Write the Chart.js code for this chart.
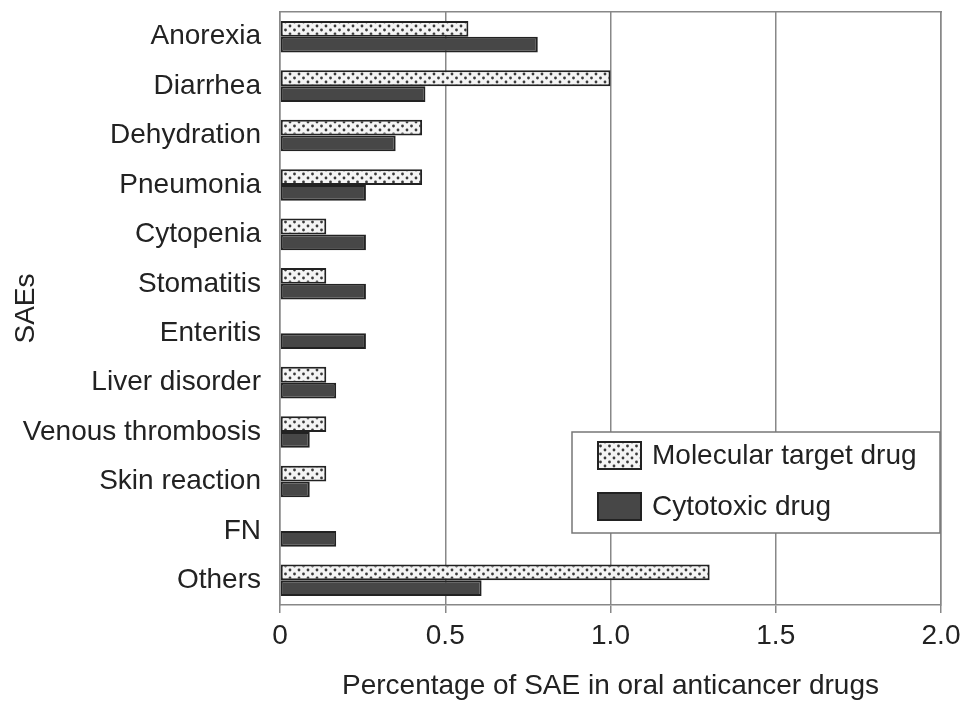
<!DOCTYPE html>
<html>
<head>
<meta charset="utf-8">
<script src="https://cdn.jsdelivr.net/npm/chart.js@4"></script>
<style>
  html, body { margin: 0; padding: 0; background: #fff; }
  #wrap { width: 969px; height: 711px; }
</style>
</head>
<body>
<div id="wrap"><canvas id="chart" width="969" height="711"></canvas></div>
<script>
const categories = ['Anorexia', 'Diarrhea', 'Dehydration', 'Pneumonia', 'Cytopenia', 'Stomatitis',
  'Enteritis', 'Liver disorder', 'Venous thrombosis', 'Skin reaction', 'FN', 'Others'];
const molecularTarget = [0.57, 1.00, 0.43, 0.43, 0.14, 0.14, 0, 0.14, 0.14, 0.14, 0, 1.30];
const cytotoxic = [0.78, 0.44, 0.35, 0.26, 0.26, 0.26, 0.26, 0.17, 0.09, 0.09, 0.17, 0.61];
const xTicks = [0, 0.5, 1.0, 1.5, 2.0];

const FONT = '"Liberation Sans", Arial, sans-serif';

// stipple fill for the molecular target bars
const makeDots = () => {
  const c = document.createElement('canvas');
  c.width = 9; c.height = 8;
  const g = c.getContext('2d');
  g.fillStyle = '#f4f4f4';
  g.fillRect(0, 0, 9, 8);
  g.fillStyle = '#3a3a3a';
  g.beginPath(); g.arc(2, 2, 1.4, 0, Math.PI * 2); g.fill();
  g.beginPath(); g.arc(6.5, 6, 1.4, 0, Math.PI * 2); g.fill();
  return g.createPattern(c, 'repeat');
};
const dots = makeDots();

// legend drawn inside the plot area, bottom right
const boxLegend = {
  id: 'boxLegend',
  afterDraw: (chart) => {
    const ctx = chart.ctx;
    const x = 572, y = 432, w = 368, h = 101;
    ctx.save();
    ctx.fillStyle = '#fff';
    ctx.fillRect(x, y, w, h);
    ctx.strokeStyle = '#777';
    ctx.lineWidth = 1.5;
    ctx.strokeRect(x, y, w, h);
    ctx.font = '28px ' + FONT;
    ctx.textBaseline = 'middle';
    chart.data.datasets.forEach((ds, i) => {
      const sy = y + 10 + i * 51;
      ctx.fillStyle = ds.backgroundColor;
      ctx.fillRect(598, sy, 43, 27);
      ctx.strokeStyle = '#222';
      ctx.lineWidth = 2;
      ctx.strokeRect(598, sy, 43, 27);
      ctx.fillStyle = '#222';
      ctx.fillText(ds.label, 652, sy + 14);
    });
    ctx.restore();
  }
};

new Chart(document.getElementById('chart'), {
  type: 'bar',
  data: {
    labels: categories,
    datasets: [{
      label: 'Molecular target drug',
      data: molecularTarget,
      backgroundColor: dots,
      borderColor: '#222',
      borderWidth: 2,
      borderSkipped: false
    }, {
      label: 'Cytotoxic drug',
      data: cytotoxic,
      backgroundColor: '#474747',
      borderColor: '#222',
      borderWidth: 2,
      borderSkipped: false
    }]
  },
  options: {
    indexAxis: 'y',
    responsive: false,
    animation: false,
    layout: { padding: { top: 12, right: 28, left: 0, bottom: 0 } },
    datasets: { bar: { categoryPercentage: 0.64, barPercentage: 1.0 } },
    plugins: {
      legend: { display: false },
      tooltip: { enabled: false }
    },
    scales: {
      x: {
        min: 0,
        max: 2.0,
        afterBuildTicks: (scale) => { scale.ticks = xTicks.map(v => ({ value: v })); },
        afterFit: (scale) => {
          scale.height = 106;
          scale.paddingLeft = 0;
          scale.paddingRight = 0;
        },
        ticks: {
          color: '#222',
          font: { family: FONT, size: 28 },
          padding: 6,
          maxRotation: 0,
          callback: (v) => v === 0 ? '0' : v.toFixed(1)
        },
        grid: { color: '#888', lineWidth: 1.5, tickLength: 8, drawTicks: true },
        border: { color: '#888', width: 1.5 },
        title: {
          display: true,
          text: 'Percentage of SAE in oral anticancer drugs',
          color: '#222',
          font: { family: FONT, size: 28 },
          padding: { top: 4, bottom: 8 }
        }
      },
      y: {
        afterFit: (scale) => {
          scale.width = 280;
          scale.paddingTop = 0;
          scale.paddingBottom = 0;
        },
        ticks: {
          color: '#222',
          font: { family: FONT, size: 28 },
          padding: 11
        },
        grid: { display: false },
        border: { color: '#888', width: 1.5 },
        title: {
          display: true,
          text: 'SAEs',
          color: '#222',
          font: { family: FONT, size: 28 },
          padding: { top: 9, bottom: 0 }
        }
      },
      x2: {
        position: 'top',
        min: 0,
        max: 2.0,
        ticks: { display: false },
        grid: { display: false },
        border: { color: '#888', width: 1.5 },
        afterFit: (scale) => {
          scale.height = 0;
          scale.paddingLeft = 0;
          scale.paddingRight = 0;
        }
      },
      y2: {
        position: 'right',
        type: 'linear',
        ticks: { display: false },
        grid: { display: false },
        border: { color: '#888', width: 1.5 },
        afterFit: (scale) => {
          scale.width = 0;
          scale.paddingTop = 0;
          scale.paddingBottom = 0;
        }
      }
    }
  },
  plugins: [boxLegend]
});
</script>
</body>
</html>
